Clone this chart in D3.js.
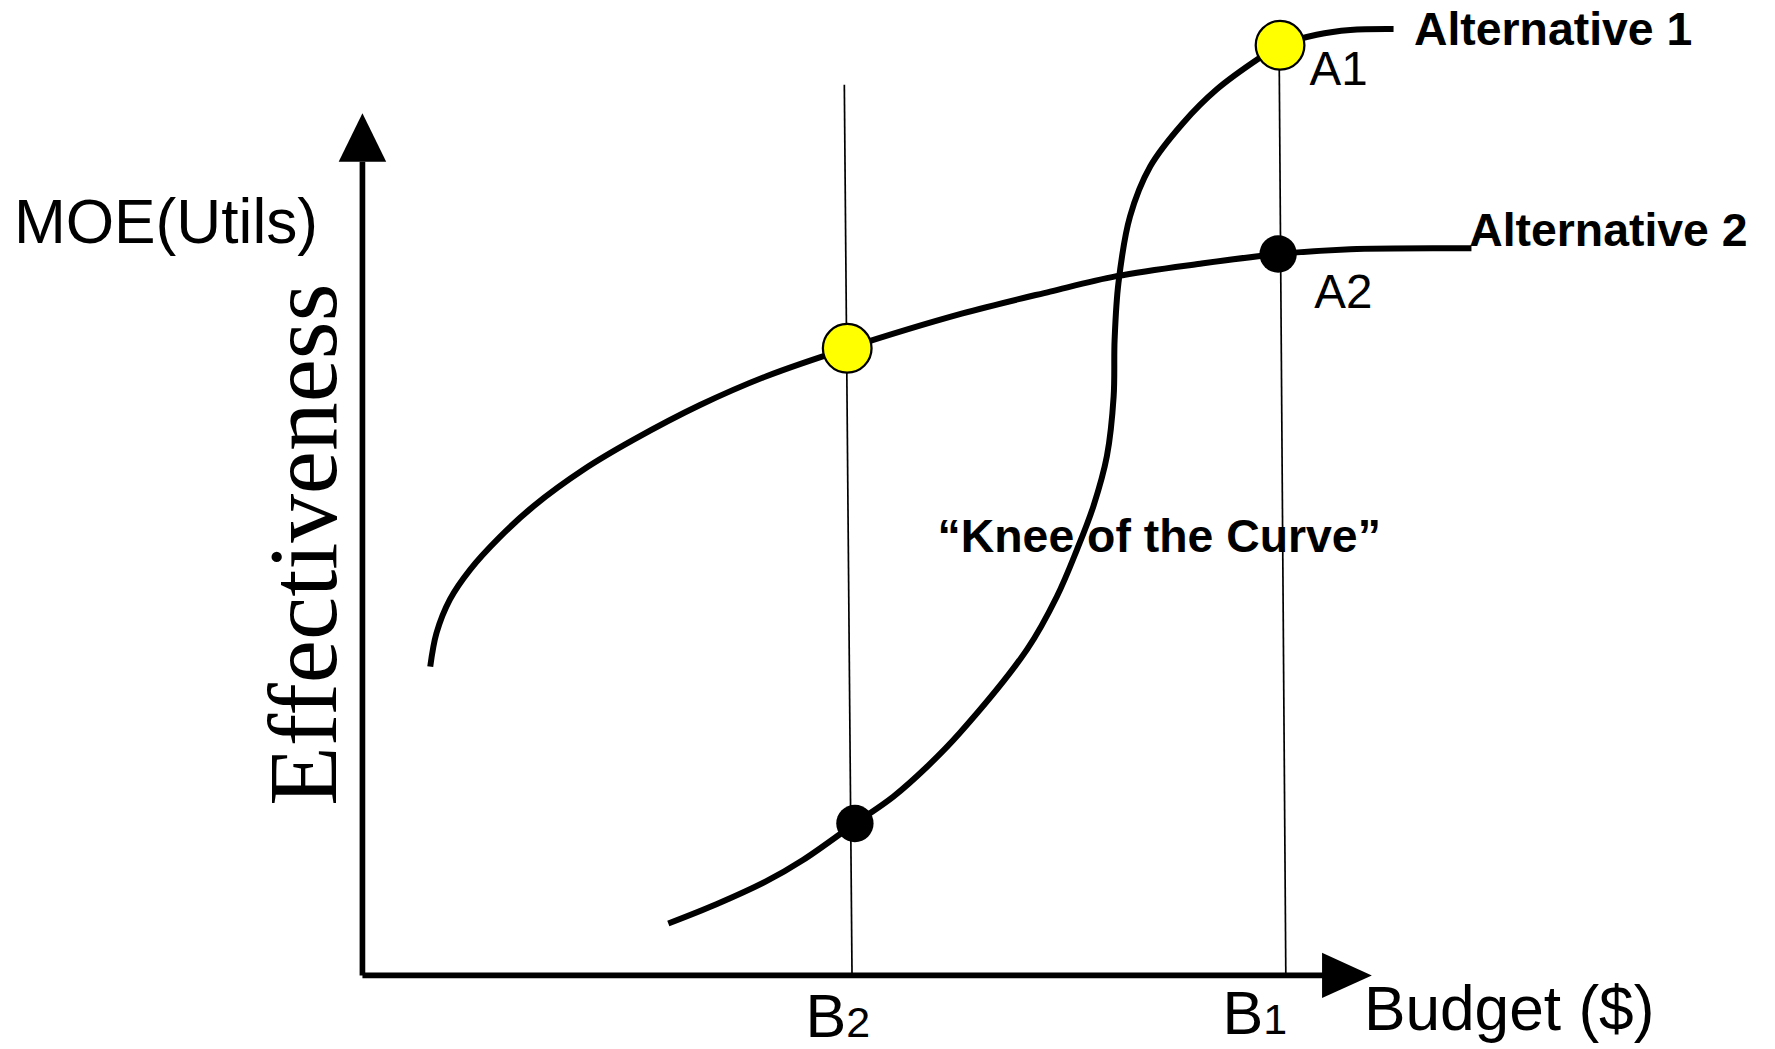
<!DOCTYPE html>
<html>
<head>
<meta charset="utf-8">
<script src="https://cdn.jsdelivr.net/npm/d3@7"></script>
<style>
  body { margin: 0; background: #fff; }
  text { font-family: "Liberation Sans", Arial, sans-serif; fill: #000; }
</style>
</head>
<body>
<svg id="Diagram"></svg>
<script>
// budget (x) vs effectiveness (y), both on a 0..100 scale
var alt1Budget = [31.8, 36.8, 42.0, 45.8, 51.2, 55.2, 58.7, 62.1, 69.1, 72.2, 74.3, 76.0, 77.4, 78.1, 78.2, 78.6, 79.8, 81.9, 85.3, 88.8, 93.3, 95.4, 99.2, 102.7, 107.2];
var alt1Effect = [5.4, 7.4, 9.8, 12.0, 15.8, 18.6, 21.7, 25.2, 33.9, 39.4, 44.3, 48.8, 54.0, 60.2, 66.1, 72.0, 78.9, 84.1, 88.6, 92.1, 95.4, 96.7, 97.8, 98.3, 98.4];
var alt2Budget = [7.05, 7.7, 9.1, 11.2, 14.3, 17.8, 23.0, 28.2, 35.1, 42.0, 50.4, 62.3, 71.5, 78.4, 87.1, 95.2, 102.7, 113.1, 115.3];
var alt2Effect = [32.1, 35.6, 39.1, 42.2, 45.6, 48.8, 52.6, 55.7, 59.3, 62.3, 65.2, 68.8, 71.1, 72.7, 74.0, 75.0, 75.5, 75.6, 75.6];

// budget levels B2 and B1 (guide lines lean slightly)
var budgetNames = ["B", "B"];
var budgetSubs = ["2", "1"];
var budgetBottom = [50.9, 96.0];
var budgetTop = [50.1, 95.3];
var budgetTopEffect = [92.6, 96.7];

// highlighted points
var yellowBudget = [50.4, 95.4];
var yellowEffect = [65.2, 96.7];
var blackBudget = [51.2, 95.2];
var blackEffect = [15.8, 75.0];
var pointLabels = ["A1", "A2"];
var seriesNames = ["Alternative 1", "Alternative 2"];

var W = 1568, H = 927;
var svg = d3.select("#Diagram")
    .attr("width", 1775)
    .attr("height", 1049)
    .attr("viewBox", "0 0 " + W + " " + H);

var x = d3.scaleLinear().domain([0, 100]).range([320, 1170]);
var y = d3.scaleLinear().domain([0, 100]).range([862, 12]);

var line = d3.line()
    .x(function(d) { return x(d[0]); })
    .y(function(d) { return y(d[1]); })
    .curve(d3.curveCatmullRom.alpha(0.5));

var alt1 = alt1Budget.map(function(v, i) { return [v, alt1Effect[i]]; });
var alt2 = alt2Budget.map(function(v, i) { return [v, alt2Effect[i]]; });

// guide lines at B2, B1
svg.append("g").selectAll("line")
    .data(budgetBottom)
    .enter().append("line")
    .attr("x1", function(d, i) { return x(budgetTop[i]); })
    .attr("y1", function(d, i) { return y(budgetTopEffect[i]); })
    .attr("x2", function(d) { return x(d); })
    .attr("y2", y(0))
    .attr("stroke", "#000")
    .attr("stroke-width", 1.5);

// curves
svg.append("g").selectAll("path")
    .data([alt1, alt2])
    .enter().append("path")
    .attr("d", line)
    .attr("fill", "none")
    .attr("stroke", "#000")
    .attr("stroke-width", 5.3);

// axes (no ticks), with arrow heads
var xAxis = svg.append("g")
    .attr("transform", "translate(0," + y(0) + ")")
    .call(d3.axisBottom(x).tickValues([]).tickSizeOuter(0));
xAxis.select(".domain").attr("stroke-width", 5).attr("d", "M" + x(0) + ",0H" + x(100));
var yAxis = svg.append("g")
    .attr("transform", "translate(" + x(0) + ",0)")
    .call(d3.axisLeft(y).tickValues([]).tickSizeOuter(0));
yAxis.select(".domain").attr("stroke-width", 5).attr("d", "M0," + y(0) + "V" + (y(100) + 131));

var xEnd = x(100) - 2, yEnd = y(100) + 131;
svg.append("path")
    .attr("d", "M" + xEnd + "," + (y(0) - 20) + "L" + (xEnd + 44) + "," + y(0) + "L" + xEnd + "," + (y(0) + 20) + "Z")
    .attr("fill", "#000");
svg.append("path")
    .attr("d", "M" + (x(0) - 21) + "," + yEnd + "L" + x(0) + "," + (yEnd - 43) + "L" + (x(0) + 21) + "," + yEnd + "Z")
    .attr("fill", "#000");

// points
svg.append("g").selectAll("circle")
    .data(blackBudget)
    .enter().append("circle")
    .attr("cx", function(d) { return x(d); })
    .attr("cy", function(d, i) { return y(blackEffect[i]); })
    .attr("r", 16.5)
    .attr("fill", "#000");
svg.append("g").selectAll("circle")
    .data(yellowBudget)
    .enter().append("circle")
    .attr("cx", function(d) { return x(d); })
    .attr("cy", function(d, i) { return y(yellowEffect[i]); })
    .attr("r", 21.5)
    .attr("fill", "#ffff00")
    .attr("stroke", "#000")
    .attr("stroke-width", 2);

// point labels A1 (next to yellow dot) and A2 (next to black dot)
svg.append("text")
    .attr("x", x(yellowBudget[1]) + 26).attr("y", y(yellowEffect[1]) + 35)
    .attr("font-size", 42).text(pointLabels[0]);
svg.append("text")
    .attr("x", x(blackBudget[1]) + 32).attr("y", y(blackEffect[1]) + 48)
    .attr("font-size", 42).text(pointLabels[1]);

// series names at curve ends
var ends = [alt1[alt1.length - 1], alt2[alt2.length - 1]];
var endOffset = [[18, 14], [-2, -2]];
svg.append("g").selectAll("text")
    .data(ends)
    .enter().append("text")
    .attr("x", function(d, i) { return x(d[0]) + endOffset[i][0]; })
    .attr("y", function(d, i) { return y(d[1]) + endOffset[i][1]; })
    .attr("font-size", 41)
    .attr("font-weight", "bold")
    .text(function(d, i) { return seriesNames[i]; });

// knee annotation
svg.append("text")
    .attr("x", x(59.8)).attr("y", y(44))
    .attr("font-size", 41)
    .attr("font-weight", "bold")
    .text("\u201cKnee of the Curve\u201d");

// budget tick labels with subscripts
var tickDx = [-41, -56], tickDy = [54, 52];
budgetBottom.forEach(function(b, i) {
    var t = svg.append("text")
        .attr("x", x(b) + tickDx[i])
        .attr("y", y(0) + tickDy[i])
        .attr("font-size", 54);
    t.append("tspan").text(budgetNames[i]);
    t.append("tspan").attr("font-size", 38).text(budgetSubs[i]);
});

// axis titles
svg.append("text")
    .attr("x", x(100) + 35).attr("y", y(0) + 48)
    .attr("font-size", 55)
    .text("Budget ($)");
svg.append("text")
    .attr("x", 12).attr("y", 215)
    .attr("font-size", 55)
    .text("MOE(Utils)");
svg.append("text")
    .attr("transform", "translate(297,712) rotate(-90)")
    .style("font-family", "'Liberation Serif', 'Times New Roman', serif")
    .attr("font-size", 86)
    .text("Effectiveness");
</script>
</body>
</html>
